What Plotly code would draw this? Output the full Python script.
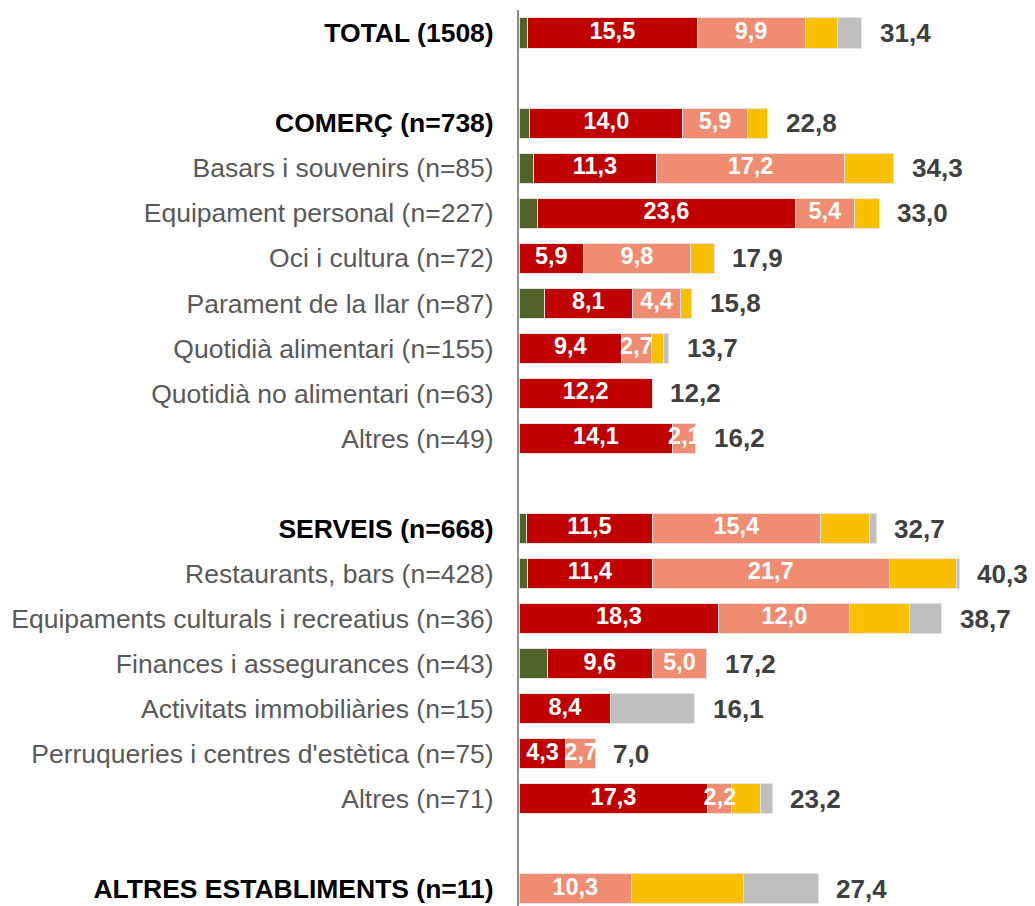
import plotly.graph_objects as go

# ---- data ----
categories = [
    "TOTAL (1508)", "",
    "COMERÇ (n=738)", "Basars i souvenirs (n=85)", "Equipament personal (n=227)",
    "Oci i cultura (n=72)", "Parament de la llar (n=87)", "Quotidià alimentari (n=155)",
    "Quotidià no alimentari (n=63)", "Altres (n=49)", " ",
    "SERVEIS (n=668)", "Restaurants, bars (n=428)", "Equipaments culturals i recreatius (n=36)",
    "Finances i assegurances (n=43)", "Activitats immobiliàries (n=15)",
    "Perruqueries i centres d'estètica (n=75)", "Altres (n=71)", "  ",
    "ALTRES ESTABLIMENTS (n=11)",
]
headers = ["TOTAL (1508)", "COMERÇ (n=738)", "SERVEIS (n=668)", "ALTRES ESTABLIMENTS (n=11)"]

s_green  = [0.8, None, 1.0, 1.3, 1.7, 0,   2.3, 0,   0,    0,    None, 0.7,  0.8,  0,    2.6, 0,   0,   0,    None, 0]
s_red    = [15.5, None, 14.0, 11.3, 23.6, 5.9, 8.1, 9.4, 12.2, 14.1, None, 11.5, 11.4, 18.3, 9.6, 8.4, 4.3, 17.3, None, 0]
s_salmon = [9.9, None, 5.9, 17.2, 5.4, 9.8, 4.4, 2.7, 0,    2.1,  None, 15.4, 21.7, 12.0, 5.0, 0,   2.7, 2.2,  None, 10.3]
s_yellow = [3.0, None, 1.9, 4.5, 2.3, 2.2, 1.0, 1.1, 0,    0,    None, 4.5,  6.2,  5.5,  0,   0,   0,   2.6,  None, 10.3]
s_gray   = [2.2, None, 0,   0,   0,   0,   0,   0.5, 0,    0,    None, 0.6,  0.2,  2.9,  0,   7.7, 0,   1.1,  None, 6.8]
totals   = [31.4, None, 22.8, 34.3, 33.0, 17.9, 15.8, 13.7, 12.2, 16.2, None, 32.7, 40.3, 38.7, 17.2, 16.1, 7.0, 23.2, None, 27.4]

colors = ["#4F6228", "#C00000", "#F08C72", "#F8C000", "#BFBFBF"]
series = [s_green, s_red, s_salmon, s_yellow, s_gray]
labelled = [False, True, True, False, False]

def fmt(v):
    return f"{v:.1f}".replace(".", ",")

ypos = list(range(len(categories)))

fig = go.Figure()
for vals, col in zip(series, colors):
    fig.add_trace(go.Bar(
        y=ypos, x=vals, orientation="h", marker=dict(color=col, line=dict(color="#E3E3E3", width=1)),
        width=0.667, showlegend=False, hoverinfo="skip",
    ))

# in-bar labels at segment centres
for k, (vals, lab) in enumerate(zip(series, labelled)):
    if not lab:
        continue
    xs, ys, ts = [], [], []
    for i in ypos:
        v = vals[i]
        if v is None or v == 0:
            continue
        base = sum((series[j][i] or 0) for j in range(k))
        xs.append(base + v / 2)
        ys.append(i)
        ts.append(fmt(v))
    fig.add_trace(go.Scatter(
        x=xs, y=ys, text=ts, mode="text", textposition="middle center",
        textfont=dict(family="Liberation Sans, Arial", size=23.5, color="white", weight="bold"),
        showlegend=False, hoverinfo="skip", cliponaxis=False,
    ))

# total labels
for i in ypos:
    if totals[i] is None:
        continue
    fig.add_annotation(
        x=totals[i], y=i, xref="x", yref="y", text=f"<b>{fmt(totals[i])}</b>",
        showarrow=False, xanchor="left", yanchor="middle", xshift=16,
        font=dict(family="Liberation Sans, Arial", size=26, color="#404040"),
    )

ticktext = []
for c in categories:
    if c in headers:
        ticktext.append(f'<b><span style="color:#000000">{c}</span></b>')
    else:
        ticktext.append(c)

fig.update_layout(
    width=1035, height=906,
    margin=dict(l=519, r=0, t=10, b=0),
    barmode="stack",
    plot_bgcolor="white", paper_bgcolor="white",
    font=dict(family="Liberation Sans, Arial"),
    xaxis=dict(range=[0, 47.25], showgrid=False, zeroline=False, showticklabels=False, showline=False),
    yaxis=dict(
        range=[19.38, -0.51], tickvals=ypos, ticktext=ticktext, showgrid=False, zeroline=False,
        showline=True, linecolor="#8C8C8C", linewidth=2, ticks="", ticklabelstandoff=18,
        tickfont=dict(family="Liberation Sans, Arial", size=26.5, color="#595959"),
    ),
)

fig.write_html("out.html", config={"displayModeBar": False},
               post_script="document.body.style.margin='0';document.body.style.overflow='hidden';")
